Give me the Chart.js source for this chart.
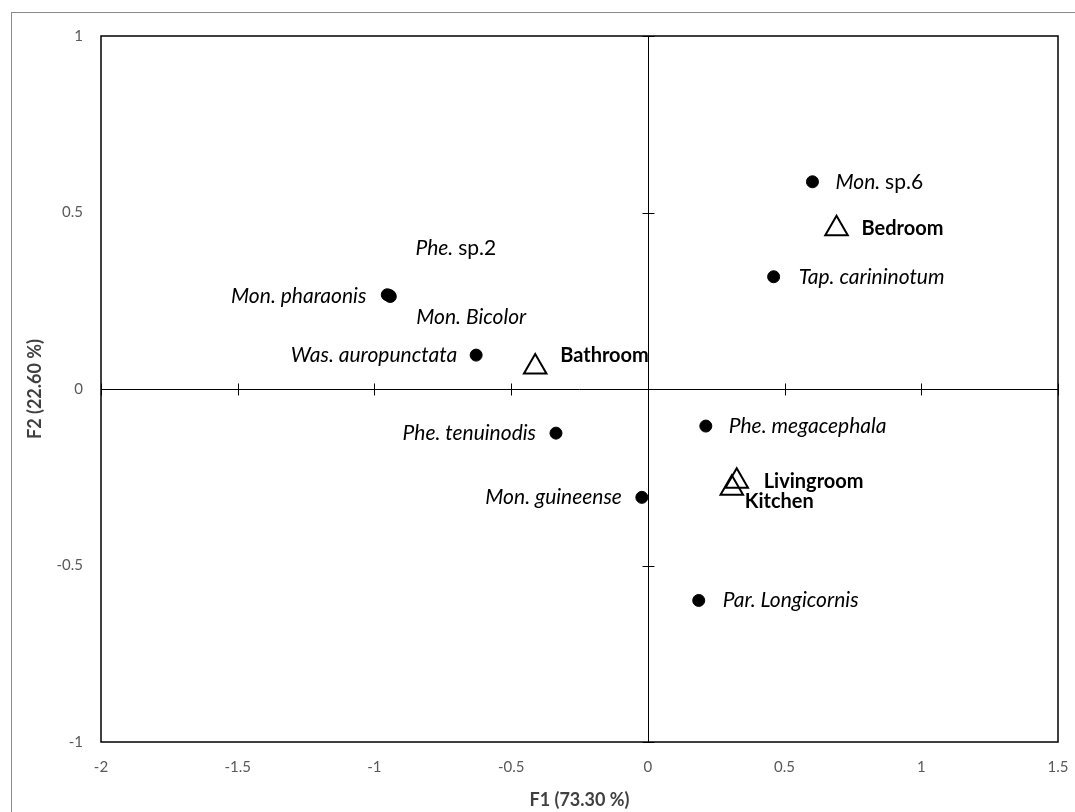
<!DOCTYPE html>
<html>
<head>
<meta charset="utf-8">
<script src="https://cdn.jsdelivr.net/npm/chart.js@4/dist/chart.umd.min.js"></script>
<style>
  html, body { margin: 0; padding: 0; background: #fff; }
  #wrap { width: 1075px; height: 812px; }
</style>
</head>
<body>
<div id="wrap"><canvas id="chart"></canvas></div>
<script>
// Axis ticks
const xTicks = [-2, -1.5, -1, -0.5, 0, 0.5, 1, 1.5];
const yTicks = [-1, -0.5, 0, 0.5, 1];

// Species (filled dots)
const speciesNames = ['Mon. sp.6', 'Tap. carininotum', 'Phe. sp.2', 'Mon. pharaonis', 'Mon. Bicolor',
    'Was. auropunctata', 'Phe. tenuinodis', 'Mon. guineense', 'Phe. megacephala', 'Par. Longicornis'];
const speciesF1 = [0.602, 0.460, -0.945, -0.953, -0.942, -0.628, -0.336, -0.022, 0.212, 0.186];
const speciesF2 = [0.587, 0.318, 0.265, 0.267, 0.262, 0.096, -0.125, -0.307, -0.105, -0.599];

// Sites (open triangles)
const siteNames = ['Bedroom', 'Bathroom', 'Livingroom', 'Kitchen'];
const siteF1 = [0.690, -0.412, 0.325, 0.307];
const siteF2 = [0.454, 0.062, -0.261, -0.281];

// label placement (dx, dy from the mark, text alignment)
const speciesLabelPos = [
    [23, 0, 'left'], [25, 0, 'left'], [26, -47, 'left'], [-21, 1, 'right'], [26, 21, 'left'],
    [-19, 0, 'right'], [-20, 0, 'right'], [-20, 0, 'right'], [23, 0, 'left'], [24, 0, 'left']
];
const siteLabelPos = [[25, 0], [25, -12], [27, 0], [13, 13]];

const FONT = 'Lato, "Open Sans", sans-serif';

const frame = {
    id: 'frame',
    beforeDraw(chart) {
        const ctx = chart.ctx;
        ctx.save();
        ctx.strokeStyle = '#8a8a8a';
        ctx.lineWidth = 1;
        ctx.strokeRect(11.5, 12.5, 1090, 820);
        ctx.restore();
    }
};

// plot border + axes crossing at the origin
const crossAxes = {
    id: 'crossAxes',
    beforeDatasetsDraw(chart) {
        const { ctx, chartArea: a, scales: { x, y } } = chart;
        ctx.save();
        ctx.strokeStyle = '#000';
        ctx.lineWidth = 1.5;
        ctx.strokeRect(a.left, a.top, a.right - a.left, a.bottom - a.top);
        ctx.lineWidth = 1;
        const x0 = Math.round(x.getPixelForValue(0)) + 0.5;
        const y0 = Math.round(y.getPixelForValue(0)) + 0.5;
        ctx.beginPath();
        ctx.moveTo(x0, a.top); ctx.lineTo(x0, a.bottom);
        ctx.moveTo(a.left, y0); ctx.lineTo(a.right, y0);
        xTicks.forEach(v => {
            if (v === 0) return;
            const px = Math.round(x.getPixelForValue(v)) + 0.5;
            ctx.moveTo(px, y0 - 6); ctx.lineTo(px, y0 + 6);
        });
        yTicks.forEach(v => {
            if (v === 0) return;
            const py = Math.round(y.getPixelForValue(v)) + 0.5;
            ctx.moveTo(x0 - 6, py); ctx.lineTo(x0 + 6, py);
        });
        ctx.stroke();
        ctx.restore();
    }
};

const pointLabels = {
    id: 'pointLabels',
    afterDatasetsDraw(chart) {
        const ctx = chart.ctx;
        ctx.save();
        ctx.fillStyle = '#000';
        ctx.textBaseline = 'middle';
        // species: genus italic, "sp.N" upright
        chart.getDatasetMeta(0).data.forEach((pt, i) => {
            const [dx, dy, align] = speciesLabelPos[i];
            const name = speciesNames[i];
            const cut = name.indexOf(' ');
            const genus = name.slice(0, cut + 1);
            const rest = name.slice(cut + 1);
            const restItalic = !rest.startsWith('sp.');
            const fGenus = 'italic 21px ' + FONT;
            const fRest = (restItalic ? 'italic ' : '') + '21px ' + FONT;
            ctx.font = fGenus;
            const w1 = ctx.measureText(genus).width;
            ctx.font = fRest;
            const w2 = ctx.measureText(rest).width;
            let sx = pt.x + dx;
            if (align === 'right') sx -= (w1 + w2);
            ctx.textAlign = 'left';
            ctx.font = fGenus;
            ctx.fillText(genus, sx, pt.y + dy);
            ctx.font = fRest;
            ctx.fillText(rest, sx + w1, pt.y + dy);
        });
        ctx.font = 'bold 20px ' + FONT;
        ctx.textAlign = 'left';
        chart.getDatasetMeta(1).data.forEach((pt, i) => {
            const [dx, dy] = siteLabelPos[i];
            ctx.fillText(siteNames[i], pt.x + dx, pt.y + dy);
        });
        ctx.restore();
    }
};

new Chart(document.getElementById('chart'), {
    type: 'scatter',
    data: {
        datasets: [{
            label: 'Species',
            data: speciesF1.map((v, i) => ({ x: v, y: speciesF2[i] })),
            backgroundColor: '#000',
            borderColor: '#000',
            pointRadius: 6,
            pointHoverRadius: 6
        }, {
            label: 'Sites',
            data: siteF1.map((v, i) => ({ x: v, y: siteF2[i] })),
            pointStyle: 'triangle',
            backgroundColor: 'rgba(0,0,0,0)',
            borderColor: '#000',
            borderWidth: 2,
            pointRadius: 13,
            pointHoverRadius: 13
        }]
    },
    options: {
        responsive: true,
        maintainAspectRatio: false,
        animation: false,
        layout: { padding: { top: 36, right: 17, left: 0, bottom: 0 } },
        plugins: { legend: { display: false }, tooltip: { enabled: false } },
        scales: {
            x: {
                type: 'linear', min: -2, max: 1.5,
                afterBuildTicks: s => { s.ticks = xTicks.map(v => ({ value: v })); },
                afterFit: s => { s.height = 70; s.paddingLeft = 0; s.paddingRight = 0; },
                grid: { display: false, drawTicks: false },
                border: { display: false },
                ticks: { color: '#595959', font: { family: FONT, size: 15 }, padding: 16,
                    callback: v => String(v), maxRotation: 0 },
                title: { display: true, text: 'F1 (73.30 %)', color: '#404040',
                    font: { family: FONT, size: 18, weight: 'bold' }, padding: { top: 0, bottom: 1 } }
            },
            y: {
                type: 'linear', min: -1, max: 1,
                afterBuildTicks: s => { s.ticks = yTicks.map(v => ({ value: v })); },
                afterFit: s => { s.width = 101; },
                grid: { display: false, drawTicks: false },
                border: { display: false },
                ticks: { color: '#595959', font: { family: FONT, size: 15 }, padding: 18,
                    callback: v => String(v) },
                title: { display: true, text: 'F2 (22.60 %)', color: '#404040',
                    font: { family: FONT, size: 18, weight: 'bold' }, padding: { top: 24, bottom: 0 } }
            }
        }
    },
    plugins: [frame, crossAxes, pointLabels]
});
</script>
</body>
</html>
